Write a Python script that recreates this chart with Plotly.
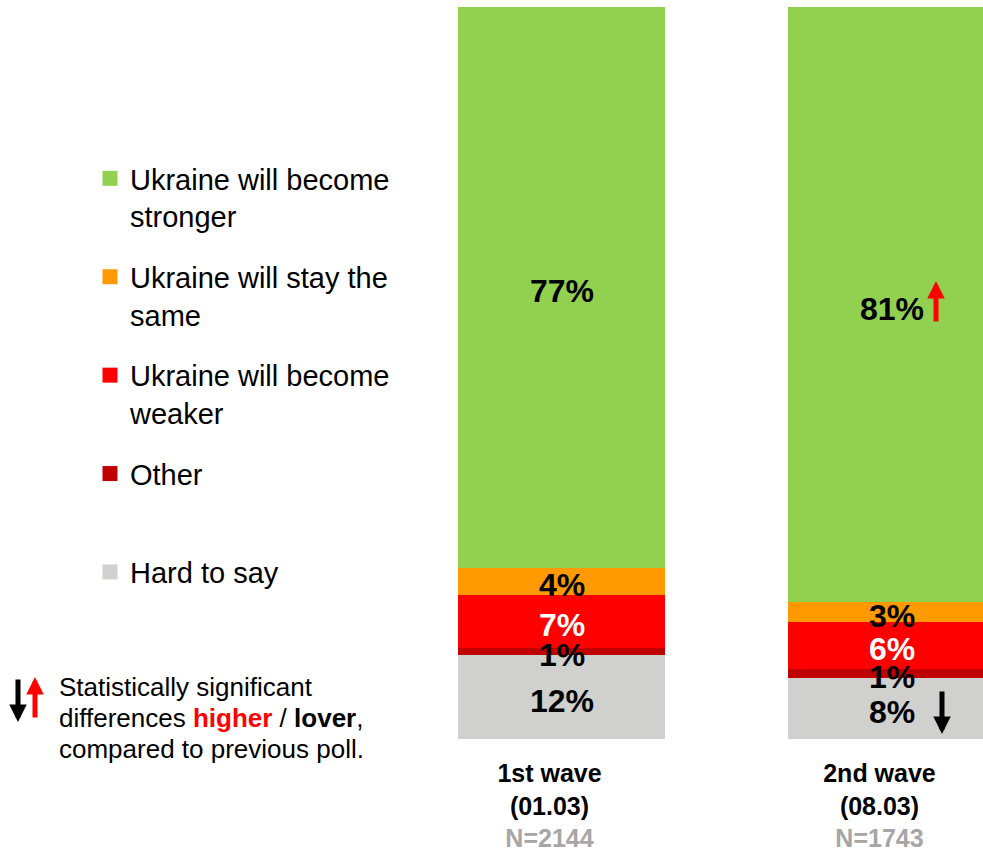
import plotly.graph_objects as go

# ---- data ----
waves = ["1st wave", "2nd wave"]
dates = ["(01.03)", "(08.03)"]
sample_n = ["N=2144", "N=1743"]

series_names = ["Ukraine will become<br>stronger",
                "Ukraine will stay the<br>same",
                "Ukraine will become<br>weaker",
                "Other<br>&nbsp;",
                "Hard to say<br>&nbsp;"]
stronger = [76.6, 81.3]
same = [3.7, 2.7]
weaker = [7.2, 6.4]
other = [1.0, 1.2]
hard = [11.5, 8.4]

stronger_lbl = ["77%", "81%"]
same_lbl = ["4%", "3%"]
weaker_lbl = ["7%", "6%"]
other_lbl = ["1%", "1%"]
hard_lbl = ["12%", "8%"]

note_lines = ["Statistically significant",
              "differences <b><span style='color:#FF0000'>higher</span></b> / <b>lover</b>,",
              "compared to previous poll."]

# ---- styling ----
FONT = "Liberation Sans, Arial, sans-serif"
W, H = 983, 849
PLOT_TOP, PLOT_BOTTOM = 7, 739
PLOT_H = PLOT_BOTTOM - PLOT_TOP
BAR_PX = 207.0
STEP_PX = 330.0
C0 = 561.5

def px(x):
    return x / W

def py(y):
    return (PLOT_BOTTOM - y) / PLOT_H

xpos = list(range(len(waves)))

fig = go.Figure()

# bottom to top
stack = [
    (series_names[4], hard, hard_lbl, "#D0D1CE", "black", 5),
    (series_names[3], other, other_lbl, "#C00000", "black", 4),
    (series_names[2], weaker, weaker_lbl, "#FF0000", "white", 3),
    (series_names[1], same, same_lbl, "#FF9900", "black", 2),
    (series_names[0], stronger, stronger_lbl, "#92D050", "black", 1),
]

base = [0.0] * len(xpos)
for name, vals, lbls, col, tcol, rank in stack:
    fig.add_trace(go.Bar(
        x=xpos, y=vals, name=name,
        marker=dict(color=col, line=dict(width=0)),
        width=BAR_PX / STEP_PX,
        showlegend=False, hoverinfo="skip",
    ))
    for xi, b, v, lbl in zip(xpos, base, vals, lbls):
        fig.add_annotation(
            x=xi, y=b + v / 2, xref="x", yref="y",
            text=f"<b>{lbl}</b>", showarrow=False, yshift=-4,
            font=dict(family=FONT, size=32, color=tcol),
        )
    base = [b + v for b, v in zip(base, vals)]
    # legend entry
    fig.add_trace(go.Scatter(
        x=[None], y=[None], mode="markers", name=name,
        marker=dict(symbol="square", size=15, color=col),
        legendgroup=name, legendrank=rank, hoverinfo="skip",
    ))

ticktext = [f"<b>{w}</b><br><b>{d}</b><br><b><span style='color:#A6A6A6'>{n}</span></b>"
            for w, d, n in zip(waves, dates, sample_n)]

fig.update_layout(
    width=W, height=H,
    margin=dict(l=0, r=0, t=PLOT_TOP, b=H - PLOT_BOTTOM, pad=0, autoexpand=False),
    barmode="stack",
    paper_bgcolor="white", plot_bgcolor="white",
    font=dict(family=FONT, color="black"),
    xaxis=dict(
        range=[-C0 / STEP_PX, (W - C0) / STEP_PX],
        tickvals=xpos, ticktext=ticktext,
        tickfont=dict(family=FONT, size=25, color="black"),
        showgrid=False, zeroline=False, showline=False, ticks="",
        ticklabelstandoff=17, ticklabelshift=-12,
        automargin=False, fixedrange=True,
    ),
    yaxis=dict(range=[0, 100], visible=False, fixedrange=True, automargin=False),
    legend=dict(
        x=px(90), y=py(153), xanchor="left", yanchor="top",
        traceorder="grouped", tracegroupgap=20, valign="top",
        itemsizing="trace",
        font=dict(family=FONT, size=29, color="black"),
        bgcolor="rgba(0,0,0,0)",
    ),
    showlegend=True,
)

# note text, one annotation per line
for i, line in enumerate(note_lines):
    fig.add_annotation(
        x=px(57), y=py(687 + 31 * i), xref="paper", yref="paper",
        xanchor="left", yanchor="middle", align="left", showarrow=False,
        text=line, font=dict(family=FONT, size=26, color="black"),
    )

def arrow(xh, yh, xt, yt, color):
    fig.add_annotation(
        x=px(xh), y=py(yh), xref="paper", yref="paper",
        ax=xt - xh, ay=yt - yh, text="", showarrow=True,
        arrowhead=2, arrowsize=0.7, arrowwidth=5, arrowcolor=color,
        standoff=0, startstandoff=0,
    )

arrow(936, 281, 936, 323, "#FF0000")
arrow(942, 734, 942, 690, "black")
arrow(18, 722, 18, 678, "black")
arrow(35, 677, 35, 719, "#FF0000")

fig.write_html("out.html", config={"displayModeBar": False},
               post_script="document.body.style.margin='0';")
